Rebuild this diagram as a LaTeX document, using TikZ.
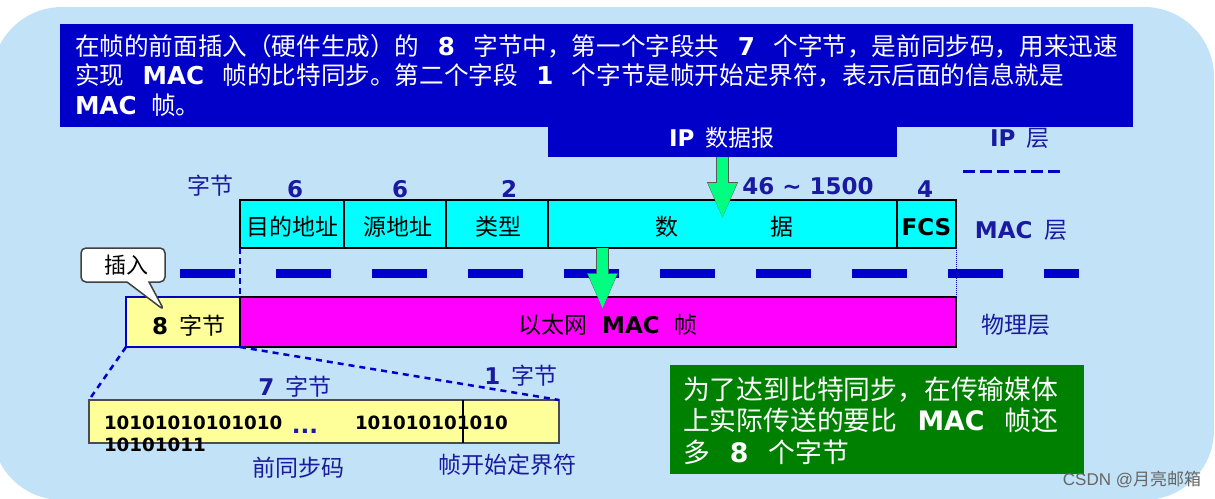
\documentclass[tikz,border=0pt]{standalone}
\usepackage{fontspec}
\setmainfont{Noto Sans CJK SC}
\newfontfamily\latinbold{DejaVu Sans Bold}
\newfontfamily\latinwm{Liberation Sans}
\newcommand{\en}[1]{{\latinbold #1}}
\newcommand{\gapen}[1]{\hspace{.75em}\en{#1}\hspace{.75em}}
\usetikzlibrary{arrows.meta,shapes.callouts}
\definecolor{bgblue}{HTML}{C2E2F7}
\definecolor{deepblue}{HTML}{0000C8}
\definecolor{labelblue}{HTML}{1A1AA0}
\definecolor{darkgreen}{HTML}{008000}
\definecolor{paleyellow}{HTML}{FFFF99}
\definecolor{arrowgreen}{HTML}{00FF80}
\definecolor{fieldcyan}{HTML}{00FFFF}
\definecolor{framemagenta}{HTML}{FF00FF}
\tikzset{
  field/.style={draw=black, line width=1.5pt, fill=fieldcyan, minimum height=48pt, text height=22pt, text depth=0pt, font=\fontsize{23}{28}\selectfont},
  banner/.style={anchor=north west, align=left, text=white, font=\fontsize{24.6}{29.7}\selectfont},
  lbl/.style={text=labelblue, font=\fontsize{23}{28}\selectfont},
  blockarrow/.style={draw=arrowgreen, line width=11.5pt, -{Triangle[length=36pt,width=26pt]},
    preaction={draw=black!65, line width=13pt, -{Triangle[length=37pt,width=28pt]}}},
  bits/.style={anchor=west, font=\fontsize{18.3}{22}\selectfont\latinbold}
}
\begin{document}
\begin{tikzpicture}[x=1pt,y=-1pt,every node/.style={inner sep=0pt,outer sep=0pt}]
    \useasboundingbox (0,0) rectangle (1215,498);
    \begin{scope}
      \clip (0,0) rectangle (1215,498);
      \fill[bgblue, rounded corners=70pt] (-8,7) rectangle (1214,500);
    \end{scope}

    \node (ip)[fill=deepblue, minimum width=349pt, minimum height=40pt] at (722.5,137) {};
    \node (note)[fill=deepblue, minimum width=1073pt, minimum height=103pt] at (596.5,75.5) {};
    \node (notetext)[banner] at (75,34) {在帧的前面插入（硬件生成）的\gapen{8}字节中，第一个字段共\gapen{7}个字节，是前同步码，用来迅速\\
      实现\gapen{MAC}帧的比特同步。第二个字段\gapen{1}个字节是帧开始定界符，表示后面的信息就是\\
      \en{MAC}\hspace{.6em}帧。};
    \node (iptext)[text=white, font=\fontsize{23}{28}\selectfont] at (722,138) {\en{IP}\hspace{.5em}数据报};

    \node (dest)[field] at (292,224)   [minimum width=104pt] {目的地址};
    \node (src)[field] at (395,224)    [minimum width=102pt] {\hspace{6pt}源地址};
    \node (type)[field] at (497,224)   [minimum width=102pt] {\hspace{2pt}类型};
    \node (data)[field] at (722.5,224) [minimum width=349pt] {\hspace{3pt}数\hspace{92pt}据};
    \node (fcs)[field] at (926.5,224)  [minimum width=59pt] {\en{FCS}};
    \draw[line width=2.5pt] (dest.north west) rectangle (fcs.south east);

    \node (byteunit)[lbl] at (210,186) {字节};
    \node (n6a)[lbl] at (295,189) {\en{6}};
    \node (n6b)[lbl] at (400,189) {\en{6}};
    \node (n2)[lbl] at (509,189) {\en{2}};
    \node (n46)[lbl] at (808,186) {\en{46 \textasciitilde{} 1500}};
    \node (n4)[lbl] at (925,189) {\en{4}};

    \node (iplayer)[lbl] at (1020,138) {\en{IP}\hspace{.5em}层};
    \node (maclayer)[lbl] at (1021,230) {\en{MAC}\hspace{.5em}层};
    \node (phylayer)[lbl] at (1016,325) {物理层};

    \coordinate (ipl) at (963,171);
    \coordinate (ipr) at (1060,171);
    \draw[deepblue, line width=3pt, dash pattern=on 12pt off 5pt] (ipl) -- (ipr);

    \coordinate (wirel) at (180,273);
    \coordinate (wirer) at (1079,273);
    \draw[deepblue, line width=9pt, dash pattern=on 55pt off 41pt] (wirel) -- (wirer);

    \node (pre)[draw=deepblue, line width=2.5pt, fill=paleyellow, minimum width=114pt, minimum height=50pt] at (183,322) {};
    \node (pretext)[font=\fontsize{23}{28}\selectfont] at (189,326) {\en{8}\hspace{.5em}字节};
    \node (frame)[draw=black, line width=2.5pt, fill=framemagenta, minimum width=716pt, minimum height=50pt] at (598,322) {};
    \node (frametext)[font=\fontsize{23}{28}\selectfont] at (608,325) {以太网\hspace{.62em}\en{MAC}\hspace{.62em}帧};

    \draw[deepblue, line width=2pt, dash pattern=on 6pt off 4pt] (dest.south west) -- (frame.north west);
    \draw[deepblue, line width=1pt, densely dotted] (fcs.south east) -- (frame.north east);

    \coordinate (tipa) at (722.5,219);
    \coordinate (tipb) at (602.5,310);
    \draw[blockarrow] (ip.south -| tipa) -- (tipa);
    \draw[blockarrow] (data.south -| tipb) -- (tipb);

    \node (insert)[rectangle callout, rounded corners=5pt, draw=black!75, line width=1.5pt, fill=white,
      minimum width=84pt, minimum height=34pt, callout absolute pointer={(164,310)}, callout pointer width=22pt,
      font=\fontsize{22}{28}\selectfont] at (123,265) {\hspace{6pt}插入};

    \node (bytes)[draw=black!70, line width=1.2pt, fill=paleyellow, minimum width=470pt, minimum height=43pt] at (324,421.5) {};
    \coordinate (split) at (463,400);
    \draw[line width=1.2pt] (split) -- (split |- bytes.south);
    \draw[deepblue, line width=2.5pt, dash pattern=on 6pt off 5pt] (pre.south west) -- (bytes.north west);
    \draw[deepblue, line width=2.5pt, dash pattern=on 6pt off 5pt] (pre.south east) -- (bytes.north east);

    \node (bitsa)[bits] at (104,423) {10101010101010};
    \node (bitsb)[bits] at (104,445) {10101011};
    \node (bitsc)[bits] at (355,423) {101010101010};
    \node (dots)[lbl] at (305,431) {\en{...}};

    \node (seven)[lbl] at (295,387) {\en{7}\hspace{.5em}字节};
    \node (one)[lbl] at (521,376) {\en{1}\hspace{.5em}字节};
    \node (sync)[lbl] at (298,468) {前同步码};
    \node (sfd)[lbl] at (507,465) {帧开始定界符};

    \node (extra)[fill=darkgreen, minimum width=414pt, minimum height=109pt] at (877,419.5) {};
    \node (extratext)[banner, font=\fontsize{26.8}{31.5}\selectfont] at (683,376.5) {为了达到比特同步，在传输媒体\\
      上实际传送的要比\gapen{MAC}帧还\\
      多\gapen{8}个字节};

    \node (mark)[text=black!60, font=\fontsize{17}{20}\selectfont] at (1132,479) {{\latinwm CSDN @}月亮邮箱};
\end{tikzpicture}
\end{document}
